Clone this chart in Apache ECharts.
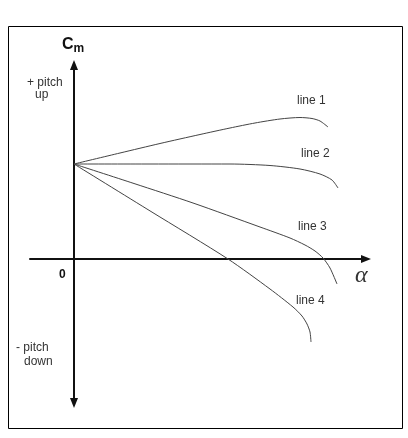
<!DOCTYPE html>
<html>
<head>
<meta charset="utf-8">
<script src="https://cdn.jsdelivr.net/npm/echarts@6/dist/echarts.min.js"></script>
<style>html,body{margin:0;padding:0;background:#fff;}#c{width:408px;height:438px;}</style>
</head>
<body>
<div id="c"></div>
<script>
// angle of attack (alpha) and pitching moment (Cm), arbitrary units
const line1Alpha = [0, 4.6, 8.6, 12.6, 15.6, 18.1, 20.6, 22.6, 23.8, 24.6, 25.4];
const line1Cm    = [9.5, 10.6, 11.55, 12.45, 13.1, 13.6, 14.0, 14.15, 14.05, 13.8, 13.2];
const line2Alpha = [0, 7.6, 15.6, 19.6, 22.6, 24.6, 25.8, 26.4];
const line2Cm    = [9.5, 9.5, 9.5, 9.35, 9.0, 8.5, 7.9, 7.1];
const line3Alpha = [0, 6.0, 11.9, 18.6, 21.6, 23.1, 24.1, 24.9, 25.6, 26.3];
const line3Cm    = [9.5, 7.55, 5.6, 3.2, 2.1, 1.4, 0.8, 0.1, -0.9, -2.5];
const line4Alpha = [0, 7.7, 15.4, 19.6, 21.9, 22.8, 23.3, 23.6, 23.7];
const line4Cm    = [9.5, 4.75, 0, -3.0, -4.8, -5.7, -6.5, -7.3, -8.3];
const lineNames  = ['line 1', 'line 2', 'line 3', 'line 4'];

const pairs = (xs, ys) => xs.map((x, i) => [x, ys[i]]);
const allLines = [
  pairs(line1Alpha, line1Cm),
  pairs(line2Alpha, line2Cm),
  pairs(line3Alpha, line3Cm),
  pairs(line4Alpha, line4Cm)
];

const chart = echarts.init(document.getElementById('c'), null, {renderer: 'canvas'});
const txt = {fontFamily: 'Liberation Sans, Arial, sans-serif', fontSize: 12, fill: '#333'};
const axisStyle = {color: '#111', width: 2};

chart.setOption({
  animation: false,
  backgroundColor: '#fff',
  grid: {left: 30, right: 42, top: 65, bottom: 35},
  xAxis: {
    type: 'value', min: -4.4, max: 29.2,
    axisLine: {show: true, onZero: true, symbol: ['none', 'triangle'], symbolSize: [8, 10], lineStyle: axisStyle},
    axisTick: {show: false}, axisLabel: {show: false}, splitLine: {show: false}
  },
  yAxis: {
    type: 'value', min: -14.4, max: 19.4,
    axisLine: {show: true, onZero: true, symbol: ['triangle', 'triangle'], symbolSize: [8, 10], lineStyle: axisStyle},
    axisTick: {show: false}, axisLabel: {show: false}, splitLine: {show: false}
  },
  series: allLines.map((d, i) => ({
    name: lineNames[i],
    type: 'line',
    data: d,
    smooth: 0.25,
    showSymbol: false,
    lineStyle: {color: '#444', width: 1}
  })),
  graphic: [
    {type: 'rect', shape: {x: 8.5, y: 26.5, width: 394, height: 402}, style: {fill: 'none', stroke: '#000', lineWidth: 1}, z: 10},
    {type: 'text', x: 62, y: 35, style: {text: '{a|C}{b|m}', rich: {
      a: {fontFamily: 'Liberation Sans, Arial', fontWeight: 'bold', fontSize: 16, fill: '#111'},
      b: {fontFamily: 'Liberation Sans, Arial', fontWeight: 'bold', fontSize: 12, fill: '#111', padding: [8, 0, 0, 0]}
    }}},
    {type: 'text', x: 27, y: 77, style: Object.assign({}, txt, {text: '+ pitch'})},
    {type: 'text', x: 35, y: 89, style: Object.assign({}, txt, {text: 'up'})},
    {type: 'text', x: 16, y: 342, style: Object.assign({}, txt, {text: '- pitch'})},
    {type: 'text', x: 24, y: 356, style: Object.assign({}, txt, {text: 'down'})},
    {type: 'text', x: 59, y: 269, style: Object.assign({}, txt, {text: '0', fontWeight: 'bold', fill: '#111'})},
    {type: 'text', x: 355, y: 264, style: {text: 'α', fontFamily: 'Liberation Serif, serif', fontStyle: 'italic', fontSize: 24, fill: '#333'}},
    {type: 'text', x: 297, y: 95, style: Object.assign({}, txt, {text: lineNames[0]})},
    {type: 'text', x: 301, y: 148, style: Object.assign({}, txt, {text: lineNames[1]})},
    {type: 'text', x: 298, y: 221, style: Object.assign({}, txt, {text: lineNames[2]})},
    {type: 'text', x: 296, y: 295, style: Object.assign({}, txt, {text: lineNames[3]})}
  ]
});
</script>
</body>
</html>
